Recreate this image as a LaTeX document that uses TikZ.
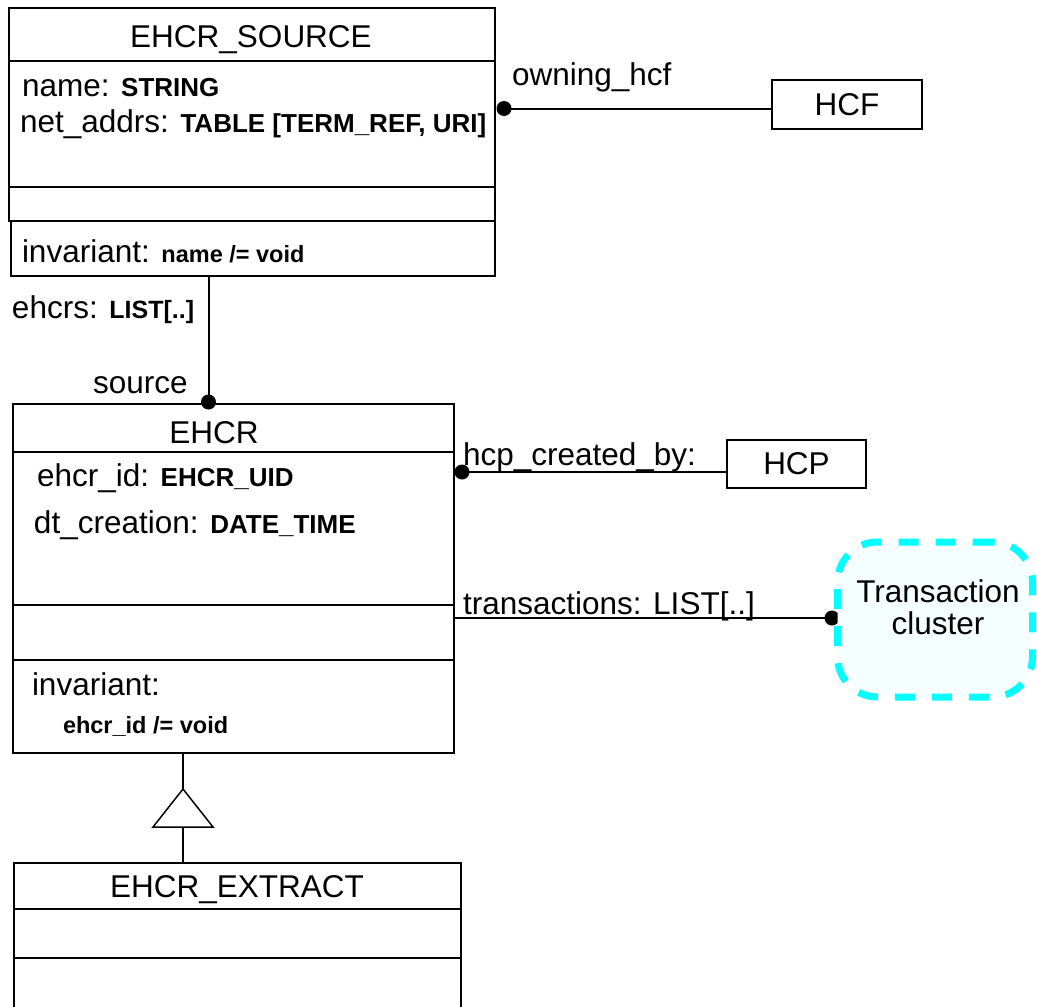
\documentclass[tikz,border=0pt]{standalone}
\usepackage{fontspec}
\setmainfont{Liberation Sans}
\usetikzlibrary{calc}

% text sizes used in the class boxes
\newcommand{\umlreg}{\fontsize{31.5}{34}\selectfont}
\newcommand{\umltype}[1]{{\bfseries\fontsize{26}{28}\selectfont #1}}
\newcommand{\umlinv}[1]{{\bfseries\fontsize{23.5}{26}\selectfont #1}}

\definecolor{clusterline}{RGB}{0,255,255}
\definecolor{clusterfill}{RGB}{245,255,255}

\tikzset{
  comp/.style={draw=black, line width=2pt, inner sep=0pt, outer sep=0pt, fill=white},
  lbl/.style={inner sep=0pt, outer sep=0pt, font=\umlreg, anchor=base west},
  clstitle/.style={inner sep=0pt, outer sep=0pt, font=\umlreg, anchor=base},
  assoc/.style={draw=black, line width=2pt},
  enddot/.style={circle, fill=black, inner sep=0pt, outer sep=0pt, minimum size=15pt},
  refbox/.style={draw=black, line width=2pt, inner sep=0pt, outer sep=0pt, fill=white, font=\umlreg},
  clusterbox/.style={draw=clusterline, line width=7pt, fill=clusterfill, rounded corners=40pt,
    dash pattern=on 20pt off 17pt, inner sep=0pt, outer sep=0pt},
  genline/.style={draw=black, line width=1.5pt}
}

\begin{document}
\begin{tikzpicture}[x=1pt,y=-1pt]
\clip (0,0) rectangle (1037,1007);
\fill[white] (0,0) rectangle (1037,1007);

% ---- EHCR_SOURCE ----
\node[comp, minimum width=486pt, minimum height=53pt]  (srchead) at (252,34.5) {};
\node[comp, minimum width=486pt, minimum height=126pt] (srcattr) at (252,124) {};
\node[comp, minimum width=486pt, minimum height=34pt]  (srcops)  at (252,204) {};
\node[comp, minimum width=484pt, minimum height=55pt]  (srcinv)  at (253,248.5) {};
\node[clstitle] (srctitle) at (251,47) {EHCR\_SOURCE};
\node[lbl] (srcname) at (22,96) {name: \umltype{STRING}};
\node[lbl] (srcaddr) at (20,132) {net\_addrs: \umltype{TABLE [TERM\_REF, URI]}};
\node[lbl] (srcinvtxt) at (22,262) {invariant: \umlinv{name /= void}};

% ---- EHCR ----
\node[comp, minimum width=441.3pt, minimum height=48pt]  (ehcrhead) at (233.35,428) {};
\node[comp, minimum width=441.3pt, minimum height=153pt] (ehcrattr) at (233.35,528.5) {};
\node[comp, minimum width=441.3pt, minimum height=55pt]  (ehcrops)  at (233.35,632.5) {};
\node[comp, minimum width=441.3pt, minimum height=93pt]  (ehcrinv)  at (233.35,706.5) {};
\node[clstitle] (ehcrtitle) at (214,443) {EHCR};
\node[lbl] (ehcrid) at (37,486) {ehcr\_id: \umltype{EHCR\_UID}};
\node[lbl] (ehcrdt) at (34,533) {dt\_creation: \umltype{DATE\_TIME}};
\node[lbl] (ehcrinvtxt) at (32,695) {invariant:};
\node[lbl] (ehcrinvexpr) at (63,733) {\umlinv{ehcr\_id /= void}};

% ---- EHCR_EXTRACT ----
\node[comp, minimum width=447pt, minimum height=46pt] (exthead) at (237.5,886) {};
\node[comp, minimum width=447pt, minimum height=49pt] (extops)  at (237.5,933.5) {};
\node[comp, minimum width=447pt, minimum height=62pt] (extrest) at (237.5,989) {};
\node[clstitle] (exttitle) at (237,897) {EHCR\_EXTRACT};

% ---- referenced classes ----
\node[refbox, minimum width=150pt, minimum height=49pt] (hcf) at (847,104.5) {HCF};
\node[refbox, minimum width=139pt, minimum height=48pt] (hcp) at (796.5,464) {HCP};

% ---- association labels ----
\node[lbl] (owninglbl) at (512,85) {owning\_hcf};
\node[lbl] (ehcrslbl) at (12,318) {ehcrs: {\bfseries\fontsize{25}{27}\selectfont LIST[..]}};
\node[lbl] (sourcelbl) at (93,393) {source};
\node[lbl] (hcplbl) at (463,465) {hcp\_created\_by:};
\node[lbl] (trxlbl) at (463,614) {transactions: LIST[..]};

% ---- associations ----
\node[enddot] (dhcf) at (504,108.5) {};
\draw[assoc] (dhcf.center) -- (dhcf.center -| hcf.west);

\node[enddot] (dsrc) at (208.5,402) {};
\draw[assoc] (dsrc.center |- srcinv.south) -- (dsrc.center);

\node[enddot] (dhcp) at (462,472) {};
\draw[assoc] (dhcp.center) -- (dhcp.center -| hcp.west);

\node[enddot] (dtrx) at (832,618) {};
\draw[assoc] (dtrx.center -| ehcrops.east) -- (dtrx.center);

% ---- transaction cluster ----
\node[clusterbox, minimum width=195pt, minimum height=155pt] (cluster) at (935,619.5) {};
\node[inner sep=0pt, align=center, font=\fontsize{31.5}{32}\selectfont] (clusterlbl) at (938,607.7) {Transaction\\cluster};

% ---- generalisation EHCR_EXTRACT -> EHCR ----
\coordinate (genapex) at (183,789);
\coordinate (genbase) at (183,827);
\draw[genline] (genapex |- ehcrinv.south) -- (genapex);
\draw[genline] (genapex) -- ++(-30,38) -- ++(60,0) -- cycle;
\draw[genline] (genbase) -- (genbase |- exthead.north);
\end{tikzpicture}
\end{document}
